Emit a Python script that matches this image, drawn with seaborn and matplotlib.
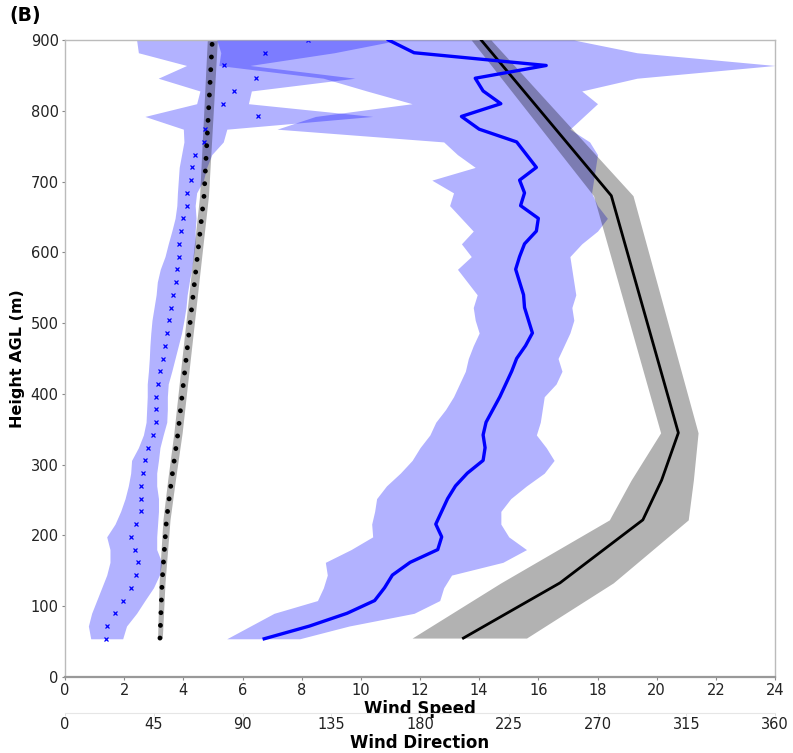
import numpy as np
import pandas as pd
import matplotlib
matplotlib.use("Agg")
import matplotlib.pyplot as plt
import seaborn as sns

# ---------------- data ----------------
heights = [54, 72, 90, 108, 126, 144, 162, 180, 198, 216, 234, 252, 270, 288, 306, 324,
           342, 360, 378, 396, 414, 432, 450, 468, 486, 504, 522, 540, 558, 576, 594, 612,
           630, 648, 666, 684, 702, 720, 738, 756, 774, 792, 810, 828, 846, 864, 882, 900]

obs_speed = [1.40, 1.42, 1.69, 1.96, 2.23, 2.41, 2.48, 2.37, 2.23, 2.41, 2.57, 2.57, 2.57, 2.64, 2.70, 2.82,
             2.96, 3.07, 3.09, 3.09, 3.13, 3.21, 3.30, 3.37, 3.45, 3.52, 3.58, 3.66, 3.74, 3.78, 3.84, 3.86,
             3.93, 4.00, 4.13, 4.13, 4.27, 4.30, 4.39, 4.70, 4.73, 6.52, 5.34, 5.71, 6.46, 5.37, 6.76, 8.22]
obs_speed_lo = [0.87, 0.79, 0.90, 1.07, 1.24, 1.41, 1.52, 1.52, 1.41, 1.69, 1.88, 2.03, 2.14, 2.22, 2.25, 2.48,
                2.65, 2.74, 2.76, 2.78, 2.78, 2.82, 2.85, 2.87, 2.90, 2.94, 3.01, 3.08, 3.12, 3.22, 3.38, 3.49,
                3.61, 3.72, 3.78, 3.80, 3.83, 3.86, 3.94, 4.02, 4.00, 2.70, 4.45, 4.56, 3.15, 4.11, 2.48, 2.42]
obs_speed_hi = [1.95, 2.08, 2.42, 2.70, 2.99, 3.19, 3.27, 3.10, 3.10, 3.13, 3.16, 3.16, 3.10, 3.10, 3.16, 3.21,
                3.32, 3.44, 3.46, 3.46, 3.49, 3.61, 3.72, 3.83, 3.94, 4.02, 4.09, 4.13, 4.20, 4.28, 4.34, 4.40,
                4.40, 4.43, 4.40, 4.45, 4.68, 4.79, 4.96, 5.35, 5.47, 10.4, 6.20, 6.30, 9.80, 6.25, 9.10, 11.3]

obs_dir = [101, 124, 143, 157, 162, 166, 175, 189, 191, 188, 191, 194, 198, 204, 212, 213,
           212, 213.5, 217, 220.5, 223.5, 226.5, 229, 233.5, 237, 235, 233, 232.5, 230.5, 228.5, 230.5, 233,
           239, 240, 231, 233, 230.5, 239, 234, 229, 210, 201, 221, 212, 208, 244, 177, 164]
obs_dir_lo = [82, 94, 106, 128, 131, 133, 132, 145, 156, 155.5, 157, 158, 163, 170, 176, 180,
              185, 188, 193, 197, 200, 203, 204.5, 207, 210, 208, 207, 209, 204, 199, 206, 201,
              207, 201, 195, 197, 186, 208, 199, 192, 107.5, 127, 176, 153, 131, 78, 79, 77]
obs_dir_hi = [119, 144, 177, 190, 192, 196, 222, 234, 225, 221, 221, 226, 234, 243, 248, 244,
              239, 241, 242, 243, 249, 252, 250, 253, 256, 258, 257, 259, 258, 257, 256, 262,
              270, 275, 270, 267, 268, 269, 270, 266, 256, 263, 270, 262, 290, 360, 290, 258]

model_heights = [55, 133, 222, 278, 345, 680, 900]
model_speed = [3.21, 3.28, 3.43, 3.60, 3.82, 4.70, 4.98]
model_speed_lo = [3.13, 3.18, 3.31, 3.47, 3.68, 4.55, 4.81]
model_speed_hi = [3.29, 3.38, 3.55, 3.73, 3.96, 4.85, 5.15]
model_dir = [202, 251, 293, 302.5, 311, 277, 211]
model_dir_lo = [176, 221, 276, 287, 302, 268, 206]
model_dir_hi = [234, 278, 316, 318.6, 321, 288, 216]

speed_ticks = list(range(0, 25, 2))
dir_ticks = list(range(0, 361, 45))
height_ticks = list(range(0, 901, 100))

obs = pd.DataFrame({"h": heights, "spd": obs_speed, "spd_lo": obs_speed_lo, "spd_hi": obs_speed_hi,
                    "dir": obs_dir, "dir_lo": obs_dir_lo, "dir_hi": obs_dir_hi})
mod = pd.DataFrame({"h": model_heights, "spd": model_speed, "spd_lo": model_speed_lo,
                    "spd_hi": model_speed_hi, "dir": model_dir, "dir_lo": model_dir_lo,
                    "dir_hi": model_dir_hi})

# ---------------- figure ----------------
plt.rcParams["font.family"] = ["DejaVu Sans"]
fig = plt.figure(figsize=(7.93, 7.53), dpi=100)
ax = fig.add_axes([65 / 793, 1 - 677 / 753, 710 / 793, 637 / 753])

# wind speed (primary axis)
ax.fill_betweenx(obs["h"], obs["spd_lo"], obs["spd_hi"], color="blue", alpha=0.3, lw=0)
sns.lineplot(data=obs, x="spd", y="h", orient="y", sort=False, estimator=None, ax=ax,
             color="blue", marker="x", markersize=3.2, markeredgewidth=0.9,
             markeredgecolor="blue", linestyle="")
ax.fill_betweenx(mod["h"], mod["spd_lo"], mod["spd_hi"], color="black", alpha=0.3, lw=0)
sns.lineplot(data=mod, x="spd", y="h", orient="y", sort=False, estimator=None, ax=ax,
             color="black", linewidth=3.5, linestyle=(0, (0.01, 2.6)),
             dash_capstyle="round")

ax.set_xlim(0, 24)
ax.set_ylim(0, 900)
ax.set_xticks(speed_ticks)
ax.set_yticks(height_ticks)
ax.set_xlabel("Wind Speed", fontsize=12, fontweight="bold", labelpad=1)
ax.set_ylabel("Height AGL (m)", fontsize=11.5, fontweight="bold", labelpad=4)
ax.tick_params(axis="both", labelsize=10.5, length=2.5, width=0.8, pad=2,
               color="#888888", labelcolor="#222222")

for side, sp in ax.spines.items():
    sp.set_color("#bbbbbb")
    sp.set_linewidth(1.0)
ax.spines["bottom"].set_color("#999999")
ax.spines["bottom"].set_linewidth(1.6)

# wind direction (twin axis)
ax2 = ax.twiny()
ax2.fill_betweenx(obs["h"], obs["dir_lo"], obs["dir_hi"], color="blue", alpha=0.3, lw=0)
ax2.fill_betweenx(mod["h"], mod["dir_lo"], mod["dir_hi"], color="black", alpha=0.3, lw=0)
sns.lineplot(data=mod, x="dir", y="h", orient="y", sort=False, estimator=None, ax=ax2,
             color="black", linewidth=2.0)
sns.lineplot(data=obs, x="dir", y="h", orient="y", sort=False, estimator=None, ax=ax2,
             color="blue", linewidth=2.4)

ax2.set_xlim(0, 360)
ax2.set_ylim(0, 900)
ax2.set_xticks(dir_ticks)
ax2.xaxis.set_ticks_position("bottom")
ax2.xaxis.set_label_position("bottom")
ax2.spines["bottom"].set_position(("outward", 26))
ax2.spines["bottom"].set_color("#e6e6e6")
ax2.spines["bottom"].set_linewidth(0.8)
for s in ["top", "left", "right"]:
    ax2.spines[s].set_visible(False)
ax2.set_xlabel("Wind Direction", fontsize=12, fontweight="bold", labelpad=1)
ax2.tick_params(axis="x", labelsize=10.5, length=2, width=0.6, pad=1,
                color="#dddddd", labelcolor="#222222")

fig.text(0.012, 0.992, "(B)", fontsize=13.5, fontweight="bold", va="top", ha="left")

fig.savefig("out.png", dpi=100)
